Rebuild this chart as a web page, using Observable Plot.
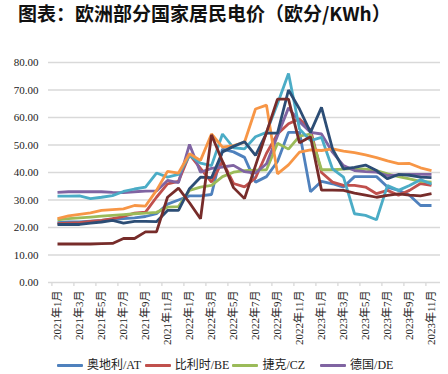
<!DOCTYPE html>
<html>
<head>
<meta charset="utf-8">
<script src="https://cdn.jsdelivr.net/npm/d3@7"></script>
<script src="https://cdn.jsdelivr.net/npm/@observablehq/plot@0.6"></script>
<style>
  html, body { margin: 0; padding: 0; background: #fff; }
  #wrap { position: relative; width: 448px; height: 374px; }
  #title { position: absolute; left: 18px; top: -1px; font: bold 19px "Noto Sans CJK SC", sans-serif; line-height: normal; color: #111; white-space: nowrap; }
  #chart { position: absolute; left: 0; top: 0; }
  #legend { position: absolute; left: 0; top: 357px; width: 448px; height: 16px; }
  .item { position: absolute; top: 0; height: 16px; display: flex; align-items: center; white-space: nowrap; font: 12px/16px "Liberation Serif", "Noto Sans CJK SC", serif; color: #222; }
  .sw { width: 26px; height: 3px; margin-right: 4px; border-radius: 1px; }
</style>
</head>
<body>
<div id="wrap">
  <div id="chart"></div>
  <div id="title">图表：欧洲部分国家居民电价（欧分/KWh）</div>
  <div id="legend"></div>
</div>
<script>
const months = [
  "2021年1月","2021年2月","2021年3月","2021年4月","2021年5月","2021年6月",
  "2021年7月","2021年8月","2021年9月","2021年10月","2021年11月","2021年12月",
  "2022年1月","2022年2月","2022年3月","2022年4月","2022年5月","2022年6月",
  "2022年7月","2022年8月","2022年9月","2022年10月","2022年11月","2022年12月",
  "2023年1月","2023年2月","2023年3月","2023年4月","2023年5月","2023年6月",
  "2023年7月","2023年8月","2023年9月","2023年10月","2023年11月"
];
const labelMonths = [
  "2021年1月","2021年3月","2021年5月","2021年7月","2021年9月","2021年11月",
  "2022年1月","2022年3月","2022年5月","2022年7月","2022年9月","2022年11月",
  "2023年1月","2023年3月","2023年5月","2023年7月","2023年9月","2023年11月"
];
const yTicks = [0, 10, 20, 30, 40, 50, 60, 70, 80];

const seriesNames = ["奥地利/AT", "比利时/BE", "捷克/CZ", "德国/DE", "丹麦/DK", "西班牙/ES", "法国/FR", "意大利/IT"];
const legendShown = ["奥地利/AT", "比利时/BE", "捷克/CZ", "德国/DE"];
const colors = ["#4F81BD", "#C0504D", "#9BBB59", "#8064A2", "#4BACC6", "#F79646", "#2C4D75", "#772C2A"];

const AT = [21.8,22,22,22.3,22.6,23,23.2,23.5,24,25,28.5,30,31.5,31.5,32,48.5,47.5,45.5,36.5,38.5,44,54.6,54.6,33,36.8,35.9,34.7,38.5,38.5,38.5,34.7,33.5,31.7,28,28];
const BE = [21.4,21.6,21.8,22.2,22.6,23.2,24,25.2,25.6,31,35.9,36.8,46.5,41.5,36.5,44,36,34.8,38,47,54,57.7,59.5,55.5,40,36.5,35.3,35.3,34.7,32.3,33.5,31.7,33.5,36,35.3];
const CZ = [22.8,23.2,23.5,23.8,24.1,24.4,24.7,25,25.2,25.5,27.4,27.6,33.5,34.7,35.3,38.5,40.1,40.7,40.9,41,50.6,48.5,53.2,54,41,41,41.2,41.4,41.2,40.7,39.5,38.5,37.7,36.8,36.5];
const DE = [32.8,33,33,33,33,32.8,32.7,33,33.2,33.3,37.1,36.3,50.2,40.1,41.5,42,42.6,40.3,39.8,43.2,53.4,63.5,58.5,54.6,54,47.4,42.5,40.7,40.3,40.1,38.9,39.1,39.3,39.3,39.3];
const DK = [31.4,31.4,31.5,30.5,31,31.6,33.1,34,34.7,39.8,38.3,39.3,46.2,43.4,42.5,54,49,48.6,53,54.6,65,76,55.8,51.6,52.8,41.3,38.3,25,24.4,22.8,35.3,33.5,35.3,37.4,35.8];
const ES = [23.2,24.2,24.8,25.3,26.2,26.5,26.8,28,27.8,33.5,40.4,39.8,46.8,44.4,54,49.2,49.8,51,63.1,64.5,39.5,42.8,47.4,48.2,48,48.6,47.8,47.2,46.4,45.4,44.2,43.2,43.3,41.7,40.7];
const FR = [21.1,21.1,21.1,21.6,22,22.6,21.6,22.2,22.2,22.1,26.2,26.2,34.1,38.3,38.1,47.5,49.5,51.2,46.2,54.3,54.3,70,63.1,54.6,63.7,48.6,41.3,41.9,42.7,40.7,37.7,39.3,39,38.3,38.1];
const IT = [14,14,14,14,14.1,14.2,16,16,18.4,18.4,31,34.3,29,23.2,53.7,44,34.5,30.5,42.5,54.6,66.7,66.7,50.8,53,33.6,33.6,33.5,32.5,31.8,31,31.7,32.2,31.8,31.5,32.3];

const seriesValues = [AT, BE, CZ, DE, DK, ES, FR, IT];
const data = seriesNames.flatMap((name, k) =>
  seriesValues[k].map((v, i) => ({series: name, month: months[i], value: v}))
);
const tickMonths = months.filter((m, i) => i % 2 === 0);

const W = 448, H = 374, mL = 48, mR = 8;
const step = (W - mL - mR) / months.length;
const serif = '"Liberation Serif", "Noto Sans CJK SC", serif';

const chart = Plot.plot({
  width: W,
  height: H,
  marginTop: 62,
  marginBottom: 92,
  marginLeft: mL,
  marginRight: mR,
  style: {background: "transparent", color: "#222"},
  x: {type: "point", domain: months, padding: 0.5, label: null},
  y: {domain: [0, 80], label: null},
  color: {domain: seriesNames, range: colors},
  marks: [
    Plot.ruleY(yTicks, {stroke: "#d9d9d9", strokeWidth: 1.3}),
    Plot.axisX({ticks: tickMonths, tickSize: 4, tickFormat: () => "", dx: -step / 2, stroke: "#d9d9d9", strokeWidth: 1.3, label: null}),
    Plot.axisX({ticks: labelMonths, tickSize: 0, tickRotate: -90, tickPadding: 8, fontSize: 11, fontFamily: serif, label: null}),
    Plot.axisY({ticks: yTicks, tickSize: 0, tickPadding: 10, tickFormat: d3.format(".2f"), fontSize: 11, fontFamily: serif, label: null}),
    Plot.line(data, {x: "month", y: "value", z: "series", stroke: "series", strokeWidth: 2.8, strokeLinejoin: "miter", strokeLinecap: "butt"})
  ]
});
document.getElementById("chart").appendChild(chart);

const legend = document.getElementById("legend");
legendShown.forEach((name, i) => {
  const item = document.createElement("div");
  item.className = "item";
  item.style.left = (57 + i * 87.7) + "px";
  const sw = document.createElement("span");
  sw.className = "sw";
  sw.style.background = colors[seriesNames.indexOf(name)];
  const tx = document.createElement("span");
  tx.textContent = name;
  item.appendChild(sw);
  item.appendChild(tx);
  legend.appendChild(item);
});
</script>
</body>
</html>
